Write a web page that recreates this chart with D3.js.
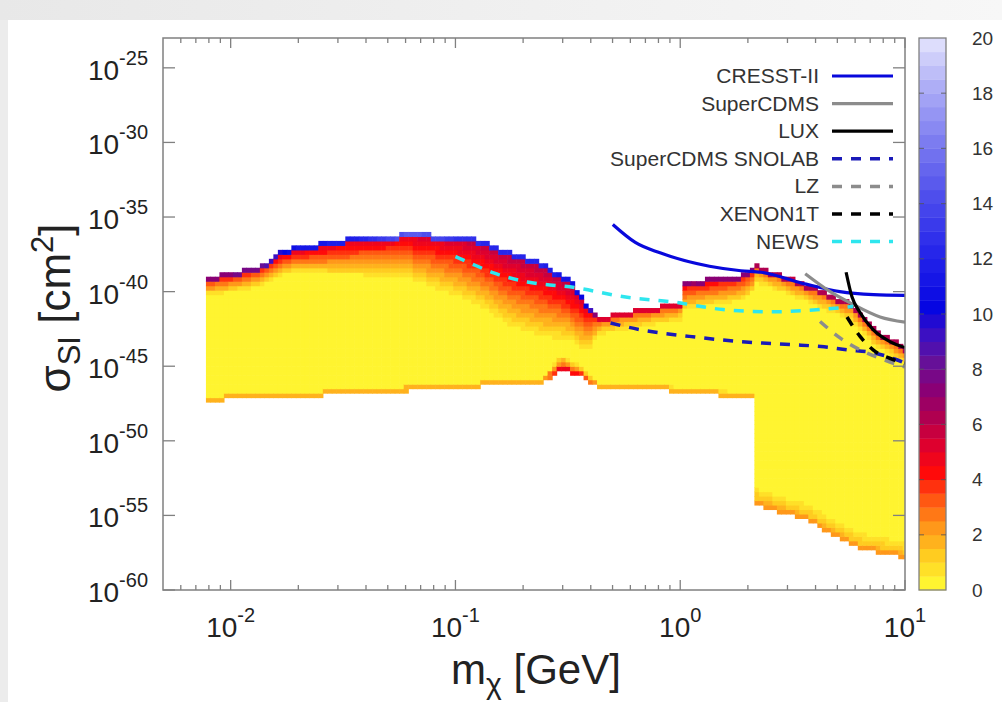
<!DOCTYPE html>
<html>
<head>
<meta charset="utf-8">
<script src="https://cdn.jsdelivr.net/npm/d3@7"></script>
<style>
  body { margin: 0; background: #fff; }
  text { font-family: "Liberation Sans", Arial, sans-serif; }
</style>
</head>
<body>
<div id="chart"></div>
<script>
// ---- data (log10 of mass in GeV, log10 of sigma in cm^2) ----

// upper edge of the filled region
const topEdge = [
  [-2.10, -39.0], [-1.99, -38.7], [-1.87, -38.3], [-1.79, -37.4], [-1.72, -37.0],
  [-1.57, -36.65], [-1.42, -36.3], [-1.20, -36.1], [-1.01, -36.2], [-0.90, -36.5],
  [-0.76, -37.3], [-0.61, -38.1], [-0.49, -39.2], [-0.41, -41.0], [-0.36, -41.7],
  [-0.25, -41.35], [-0.06, -40.9], [0.00, -40.75], [0.01, -39.3], [0.27, -38.9],
  [0.34, -38.2], [0.56, -39.5], [0.76, -40.75], [0.86, -42.4], [1.00, -43.7]
]

// lower edge of the filled region
const bottomEdge = [
  [-2.10, -47.3], [-1.72, -47.05], [-1.28, -46.7], [-0.98, -46.45], [-0.61, -46.05],
  [-0.53, -45.25], [-0.44, -45.7], [-0.39, -46.25], [-0.36, -46.4], [-0.18, -46.45],
  [0.04, -46.8], [0.27, -47.05], [0.335, -47.1], [0.34, -54.3], [0.56, -55.3],
  [0.79, -57.2], [1.00, -57.85]
]

// shading along the top: [logm, value of top cell, value just below, depth in decades]
const topShade = [
  [-2.10, 7, 4, 1.0], [-1.87, 8, 4, 1.2], [-1.72, 11, 5, 1.5], [-1.42, 12, 5, 2.5],
  [-1.20, 15, 5, 3.0], [-1.01, 13, 5.5, 4.0], [-0.76, 12, 6, 5.0], [-0.61, 12, 6, 5.0],
  [-0.49, 11, 6, 4.0], [-0.41, 10, 5, 3.0], [-0.36, 5, 3, 1.0], [0.00, 5, 3, 1.0],
  [0.01, 7, 4.5, 1.8], [0.33, 7, 4, 1.5], [0.34, 6, 3, 1.0], [1.00, 6, 3, 1.0]
]

// shading along the bottom: [logm, value of bottom cell, depth in decades]
const bottomShade = [
  [-2.10, 1.6, 0.4], [-0.61, 1.6, 0.4], [-0.53, 5, 1.2], [-0.44, 4, 0.8], [-0.36, 1.6, 0.5],
  [0.335, 1.6, 0.5], [0.34, 2.2, 1.4], [1.00, 2.0, 1.4]
]

// exclusion curves
const cresst = [[-0.30, -35.5], [-0.20, -36.7], [-0.09, -37.4], [0.13, -38.3], [0.27, -38.6],
  [0.36, -38.7], [0.56, -39.5], [0.71, -40.0], [0.86, -40.2], [1.00, -40.25]]
const superCdms = [[0.556, -38.8], [0.667, -40.0], [0.756, -40.75], [0.889, -41.7], [1.00, -42.05]]
const lux = [[0.738, -38.7], [0.764, -40.35], [0.80, -41.4], [0.858, -42.55], [0.933, -43.35], [1.00, -43.75]]
const snolab = [[-0.31, -42.1], [-0.18, -42.55], [0.04, -43.0], [0.27, -43.35], [0.49, -43.55],
  [0.64, -43.7], [0.74, -43.9], [0.86, -44.1], [0.96, -44.55], [1.00, -44.8]]
const lz = [[0.622, -42.0], [0.711, -43.1], [0.80, -43.9], [0.902, -44.55], [1.00, -45.05]]
const xenon1t = [[0.742, -41.7], [0.80, -43.0], [0.858, -43.9], [0.947, -44.55], [1.00, -44.8]]
const news = [[-1.00, -37.65], [-0.91, -38.25], [-0.83, -38.75], [-0.68, -39.35], [-0.46, -39.75],
  [-0.25, -40.35], [-0.03, -40.7], [0.19, -41.2], [0.41, -41.35], [0.62, -41.2], [0.77, -41.0]]

const legendNames = ["CRESST-II", "SuperCDMS", "LUX", "SuperCDMS SNOLAB", "LZ", "XENON1T", "NEWS"]
const legendColors = ["#0808dc", "#8c8c8c", "#000000", "#1a1ab8", "#8c8c8c", "#000000", "#2ee6ee"]
const legendDashed = [false, false, false, true, true, true, true]
const curves = [cresst, superCdms, lux, snolab, lz, xenon1t, news]

const xTicks = [1e-2, 1e-1, 1e0, 1e1]
const xTickExp = ["-2", "-1", "0", "1"]
const yTicks = [1e-25, 1e-30, 1e-35, 1e-40, 1e-45, 1e-50, 1e-55, 1e-60]
const yTickExp = ["-25", "-30", "-35", "-40", "-45", "-50", "-55", "-60"]

const paletteStops = [0, 1, 2, 3, 4, 5, 6, 7, 8, 9, 10, 12, 14, 16, 18, 20]
const paletteColors = ["#fff430", "#ffcc20", "#ff981a", "#ff5812", "#ff0a0a", "#de002e", "#b00050",
  "#8a0075", "#661098", "#3c10c2", "#0606e2", "#2626ea", "#4e4eec", "#7c7cf0", "#aeaef6", "#ececfe"]
const colorTicks = [0, 2, 4, 6, 8, 10, 12, 14, 16, 18, 20]

// ---- canvas ----
const width = 1002, height = 702
const plot = { left: 163, right: 905, top: 38, bottom: 590 }

const svg = d3.select("#chart").append("svg")
  .attr("width", width).attr("height", height)

// screenshot-like grey border top and left
const grad = svg.append("defs").append("linearGradient").attr("id", "topfade")
grad.append("stop").attr("offset", "0%").attr("stop-color", "#e8e8e8")
grad.append("stop").attr("offset", "100%").attr("stop-color", "#f7f7f7")
svg.append("rect").attr("width", width).attr("height", 20).attr("fill", "url(#topfade)")
svg.append("rect").attr("y", 20).attr("width", 8).attr("height", height - 20).attr("fill", "#ececec")

svg.append("clipPath").attr("id", "plotclip").append("rect")
  .attr("x", plot.left).attr("y", plot.top)
  .attr("width", plot.right - plot.left).attr("height", plot.bottom - plot.top)

const x = d3.scaleLog().domain([0.005, 10]).range([plot.left, plot.right])
const y = d3.scaleLog().domain([1e-60, 1e-23]).range([plot.bottom, plot.top])
const xl = v => x(Math.pow(10, v))
const yl = v => y(Math.pow(10, v))

const paletteScale = d3.scaleLinear().domain(paletteStops).range(paletteColors).clamp(true)
const color = v => paletteScale(Math.min(19.5, Math.floor(v * 2) / 2))

const byMass = (arr, col) => d3.scaleLinear().domain(arr.map(d => d[0])).range(arr.map(d => d[col])).clamp(true)
const topAt = byMass(topEdge, 1)
const botAt = byMass(bottomEdge, 1)
const capAt = byMass(topShade, 1)
const midAt = byMass(topShade, 2)
const depthAt = byMass(topShade, 3)
const bValAt = byMass(bottomShade, 1)
const bDepthAt = byMass(bottomShade, 2)

// ---- heat map cells ----
const colStep = 0.02, rowStep = 0.3
const cells = []
d3.range(-2.10, 1.0001, colStep).forEach(c => {
  const top = topAt(c), bot = botAt(c)
  d3.range(-60, -23, rowStep).forEach(lo => {
    const mid = lo + rowStep / 2
    if (mid > top || mid < bot) return
    const d = top - mid
    const v = d < rowStep ? capAt(c) : midAt(c) * Math.max(0, 1 - (d - rowStep) / depthAt(c))
    const b = mid - bot
    const vb = b < rowStep ? bValAt(c) : bValAt(c) * Math.max(0, 1 - b / bDepthAt(c))
    cells.push({ c: c, lo: lo, v: Math.max(v, vb) })
  })
})

svg.append("g").attr("id", "heat").attr("clip-path", "url(#plotclip)")
  .selectAll("rect").data(cells).enter().append("rect")
  .attr("x", d => xl(d.c - colStep / 2))
  .attr("width", d => xl(d.c + colStep / 2) - xl(d.c - colStep / 2) + 0.6)
  .attr("y", d => yl(d.lo + rowStep))
  .attr("height", d => yl(d.lo) - yl(d.lo + rowStep) + 0.6)
  .attr("fill", d => color(d.v))

// ---- curves ----
const line = d3.line().x(d => xl(d[0])).y(d => yl(d[1])).curve(d3.curveMonotoneX)
const curveG = svg.append("g").attr("clip-path", "url(#plotclip)").attr("fill", "none")
curves.forEach((pts, i) => {
  curveG.append("path").attr("d", line(pts))
    .attr("stroke", legendColors[i])
    .attr("stroke-width", legendDashed[i] ? 3.5 : 3.2)
    .attr("stroke-dasharray", legendDashed[i] ? "10,9" : null)
})

// ---- legend ----
const legend = svg.append("g")
legendNames.forEach((name, i) => {
  const cy = 76 + i * 27.6
  legend.append("text").attr("x", 819).attr("y", cy + 7)
    .attr("text-anchor", "end").attr("font-size", 21).attr("fill", "#333").text(name)
  legend.append("line").attr("x1", 832).attr("x2", 893).attr("y1", cy).attr("y2", cy)
    .attr("stroke", legendColors[i]).attr("stroke-width", legendDashed[i] ? 3.5 : 3.2)
    .attr("stroke-dasharray", legendDashed[i] ? "10,9" : null)
})

// ---- frame and ticks ----
const axisColor = "#808080"
const ticks = svg.append("g").attr("stroke", axisColor).attr("stroke-width", 1.3)
const minor = []
d3.range(-3, 1).forEach(k => d3.range(2, 10).forEach(m => {
  const v = m * Math.pow(10, k)
  if (v > 0.005 && v < 10) minor.push(v)
}))
minor.forEach(v => {
  ticks.append("line").attr("x1", x(v)).attr("x2", x(v)).attr("y1", plot.bottom).attr("y2", plot.bottom - 5)
  ticks.append("line").attr("x1", x(v)).attr("x2", x(v)).attr("y1", plot.top).attr("y2", plot.top + 5)
})
xTicks.forEach(v => {
  ticks.append("line").attr("x1", x(v)).attr("x2", x(v)).attr("y1", plot.bottom).attr("y2", plot.bottom - 10)
  ticks.append("line").attr("x1", x(v)).attr("x2", x(v)).attr("y1", plot.top).attr("y2", plot.top + 10)
})
yTicks.forEach(v => {
  ticks.append("line").attr("y1", y(v)).attr("y2", y(v)).attr("x1", plot.left).attr("x2", plot.left + 12)
  ticks.append("line").attr("y1", y(v)).attr("y2", y(v)).attr("x1", plot.right).attr("x2", plot.right - 12)
})
svg.append("rect").attr("x", plot.left).attr("y", plot.top)
  .attr("width", plot.right - plot.left).attr("height", plot.bottom - plot.top)
  .attr("fill", "none").attr("stroke", axisColor).attr("stroke-width", 1.5)

// tick labels
xTicks.forEach((v, i) => {
  const t = svg.append("text").attr("x", x(v)).attr("y", 637).attr("text-anchor", "middle").attr("fill", "#222")
  t.append("tspan").attr("font-size", 28).text("10")
  t.append("tspan").attr("font-size", 20).attr("dy", -15).text(xTickExp[i])
})
yTicks.forEach((v, i) => {
  const t = svg.append("text").attr("x", 148).attr("y", y(v) + 12).attr("text-anchor", "end").attr("fill", "#222")
  t.append("tspan").attr("font-size", 28).text("10")
  t.append("tspan").attr("font-size", 20).attr("dy", -15).text(yTickExp[i])
})

// axis titles
const xt = svg.append("text").attr("x", 536).attr("y", 684).attr("text-anchor", "middle").attr("fill", "#222")
xt.append("tspan").attr("font-size", 42).text("m")
xt.append("tspan").attr("font-size", 30).attr("dy", 10).text("\u03c7")
xt.append("tspan").attr("font-size", 42).attr("dy", -10).text(" [GeV]")

const yt = svg.append("text").attr("transform", "translate(70,308) rotate(-90)")
  .attr("text-anchor", "middle").attr("fill", "#222")
yt.append("tspan").attr("font-size", 44).text("\u03c3")
yt.append("tspan").attr("font-size", 31).attr("dy", 10).text("SI")
yt.append("tspan").attr("font-size", 44).attr("dy", -10).text(" [cm")
yt.append("tspan").attr("font-size", 31).attr("dy", -17).text("2")
yt.append("tspan").attr("font-size", 44).attr("dy", 17).text("]")

// ---- colour bar ----
const cbar = { x: 919, w: 27 }
const c = d3.scaleLinear().domain([0, 20]).range([plot.bottom, plot.top])
const bands = d3.range(0, 20, 0.5)
svg.append("g").selectAll("rect").data(bands).enter().append("rect")
  .attr("x", cbar.x).attr("width", cbar.w)
  .attr("y", d => c(d + 0.5)).attr("height", d => c(d) - c(d + 0.5) + 0.4)
  .attr("fill", d => color(d))
svg.append("rect").attr("x", cbar.x).attr("y", plot.top).attr("width", cbar.w)
  .attr("height", plot.bottom - plot.top).attr("fill", "none").attr("stroke", axisColor).attr("stroke-width", 1.3)
colorTicks.forEach(v => {
  if (v > 0 && v < 20) {
    svg.append("line").attr("x1", cbar.x).attr("x2", cbar.x + 5).attr("y1", c(v)).attr("y2", c(v))
      .attr("stroke", "#555").attr("stroke-width", 1.2).attr("opacity", 0.7)
    svg.append("line").attr("x1", cbar.x + cbar.w - 5).attr("x2", cbar.x + cbar.w).attr("y1", c(v)).attr("y2", c(v))
      .attr("stroke", "#555").attr("stroke-width", 1.2).attr("opacity", 0.7)
  }
  svg.append("text").attr("x", 972).attr("y", c(v)).attr("dy", "0.35em")
    .attr("font-size", 19).attr("fill", "#333").text(v)
})
</script>
</body>
</html>
